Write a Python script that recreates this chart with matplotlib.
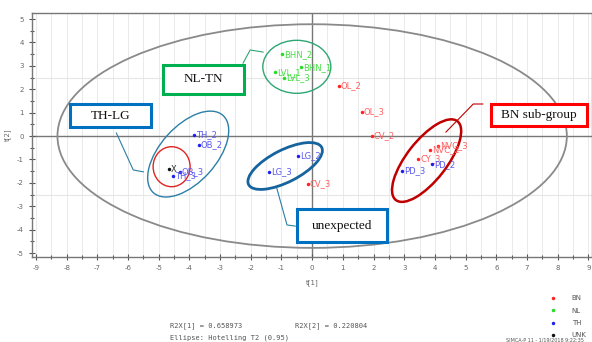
import matplotlib
matplotlib.use("Agg")
import matplotlib.pyplot as plt
from matplotlib.patches import Ellipse, Rectangle
from matplotlib.lines import Line2D
from matplotlib import transforms

plt.rcParams["axes.unicode_minus"] = False

# score values t[1], t[2] per sample
bn_names = ["OL_2", "OL_3", "CV_2", "CV_3", "NVC_3", "NVC_2", "CY_3"]
bn_t1 = [0.86, 1.62, 1.94, -0.14, 4.10, 3.85, 3.46]
bn_t2 = [2.14, 1.04, 0.00, -2.05, -0.43, -0.60, -0.98]

nl_names = ["BHN_2", "BHN_1", "LVL_1", "LVL_3"]
nl_t1 = [-0.97, -0.37, -1.22, -0.93]
nl_t2 = [3.50, 2.94, 2.72, 2.49]

th_names = ["PD_2", "PD_3", "LG_2", "LG_3", "TH_2", "OB_2", "OB_3", "TH_3"]
th_t1 = [3.90, 2.92, -0.45, -1.42, -3.84, -3.70, -4.32, -4.55]
th_t2 = [-1.21, -1.48, -0.85, -1.52, 0.04, -0.38, -1.52, -1.70]

unk_names = ["X"]
unk_t1 = [-4.66]
unk_t2 = [-1.41]

r2x = [0.658973, 0.220804]
hotelling = (8.3, 4.78)  # semi axes of T2 (0.95) ellipse

groups = [
    ("BN", bn_names, bn_t1, bn_t2, "#ff2020", "#ff6060"),
    ("NL", nl_names, nl_t1, nl_t2, "#22dd22", "#44e044"),
    ("TH", th_names, th_t1, th_t2, "#2020ee", "#5a5aee"),
    ("UNK", unk_names, unk_t1, unk_t2, "#111111", "#333333"),
]

W, H = 592, 342
fig = plt.figure(figsize=(W / 100, H / 100), dpi=100)
ax = fig.add_axes([32 / W, 1 - 257 / H, 560 / W, 244 / H])
ax.set_xlim(-9.13, 9.12)
ax.set_ylim(-5.17, 5.26)

# grid / ticks like SIMCA
ax.set_xticks(range(-9, 10))
ax.set_yticks(range(-5, 6))
ax.set_xticks([i / 2 for i in range(-18, 19)], minor=True)
ax.set_yticks([i / 2 for i in range(-10, 11)], minor=True)
ax.tick_params(which="both", direction="inout", length=4, width=0.8, color="#555555",
               labelsize=5, labelcolor="#666666", pad=4)
ax.tick_params(which="minor", length=3)
for x in [i / 2 for i in range(-18, 19)]:
    ax.axvline(x, color="#e6e6e6", lw=0.6, zorder=0)
for y in (-2.5, 2.5):
    ax.axhline(y, color="#e6e6e6", lw=0.8, zorder=0)
ax.axvline(0, color="#777777", lw=1.0, zorder=1)
ax.axhline(0, color="#777777", lw=1.0, zorder=1)
for s in ax.spines.values():
    s.set_color("#777777")
    s.set_linewidth(1.0)
ax.set_xlabel("t[1]", fontsize=5, color="#666666", labelpad=6)
ax.set_ylabel("t[2]", fontsize=5, color="#666666", labelpad=4)

# Hotelling T2 ellipse
ax.add_patch(Ellipse((0, 0), 2 * hotelling[0], 2 * hotelling[1], fill=False,
                     ec="#8a8a8a", lw=1.3, zorder=2))


def ring(cx, cy, a, b, ang, color, lw):
    # a, b in pixels, centred on a data point
    tr = fig.dpi_scale_trans + transforms.ScaledTranslation(cx, cy, ax.transData)
    ax.add_patch(Ellipse((0, 0), 2 * a / 100, 2 * b / 100, angle=ang, fill=False,
                         ec=color, lw=lw, transform=tr, zorder=3))


ring(-0.5, 2.96, 34, 26.5, 0, "#2ea673", 1.0)      # NL
ring(-4.04, -0.77, 52, 28, 48, "#2b7fa6", 1.0)     # TH
ring(-4.58, -1.31, 18.5, 20, 0, "#e02424", 1.0)    # X
ring(-0.88, -1.28, 41, 16, 27, "#16649e", 2.0)     # LG
ring(3.73, -1.05, 50, 20, 52, "#c00000", 1.8)      # BN sub-group

# leader lines
ax.plot([-1.6, -2.02, -2.25], [3.59, 3.68, 3.12], color="#2ea673", lw=0.8, zorder=3)
ax.plot([-6.38, -5.83, -5.5], [0.13, -1.45, -1.53], color="#2b7fa6", lw=0.8, zorder=3)
ax.plot([-1.15, -0.82, -0.55], [-2.24, -3.8, -3.85], color="#2b7fa6", lw=0.8, zorder=3)
ax.plot([4.36, 5.25, 5.56], [0.17, 1.37, 1.37], color="#c00000", lw=0.8, zorder=3)

for name, labels, xs, ys, col, tcol in groups:
    ax.plot(xs, ys, "o", ms=2.5, color=col, mec="none", zorder=4)
    for lab, x, y in zip(labels, xs, ys):
        ax.annotate(lab, (x, y), xytext=(1.5, 0), textcoords="offset points",
                    fontsize=6, color=tcol, va="center", ha="left", zorder=4)


def box(x0, y0, x1, y1, text, color):
    fig.add_artist(Rectangle((x0 / W, 1 - y1 / H), (x1 - x0) / W, (y1 - y0) / H,
                             transform=fig.transFigure, fill=True, fc="white",
                             ec=color, lw=2.2, zorder=5))
    fig.text((x0 + x1) / 2 / W, 1 - (y0 + y1) / 2 / H, text, ha="center", va="center",
             fontsize=9.5, family="Liberation Serif", color="#111111", zorder=6)


box(163, 65, 244, 94, "NL-TN", "#00b050")
box(70, 104, 151, 127, "TH-LG", "#0070c0")
box(491, 104, 587, 126, "BN sub-group", "#ff0000")
box(297, 209, 387, 242, "unexpected", "#0070c0")

# legend
handles = [Line2D([], [], ls="none", marker="o", ms=2.5, color=g[4], mec="none") for g in groups]
fig.legend(handles, [g[0] for g in groups], loc="upper left",
           bbox_to_anchor=(546 / W, 1 - 292 / H), frameon=False, fontsize=5,
           labelcolor="#555555", handletextpad=2.2, labelspacing=0.9,
           borderpad=0, handlelength=1.0)

mono = "DejaVu Sans Mono"
fig.text(170 / W, 1 - 326 / H, "R2X[1] = %.6f" % r2x[0], fontsize=5, family=mono,
         color="#555555", va="center")
fig.text(295 / W, 1 - 326 / H, "R2X[2] = %.6f" % r2x[1], fontsize=5, family=mono,
         color="#555555", va="center")
fig.text(170 / W, 1 - 338 / H, "Ellipse: Hotelling T2 (0.95)", fontsize=5, family=mono,
         color="#555555", va="center")
fig.text(506 / W, 1 - 340 / H, "SIMCA-P 11 - 1/19/2018 9:22:35", fontsize=3.5,
         color="#555555", va="center")

fig.savefig("out.png", dpi=100)
